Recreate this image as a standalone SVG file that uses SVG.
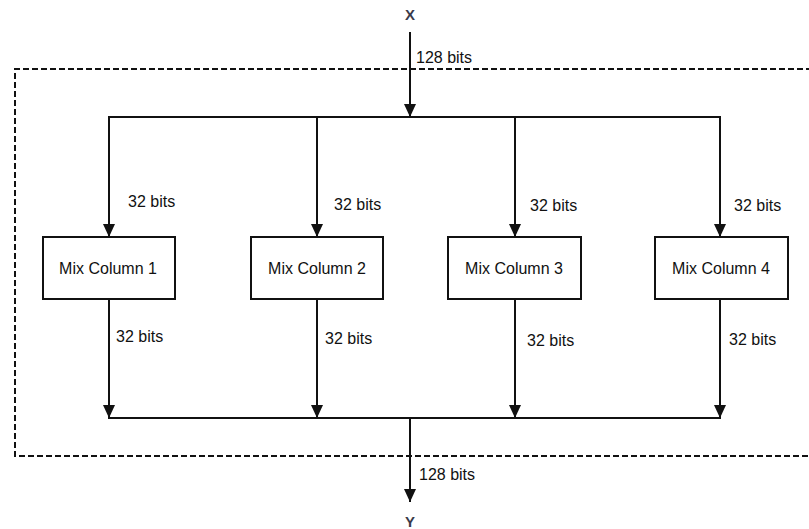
<svg xmlns="http://www.w3.org/2000/svg" width="809" height="529" viewBox="0 0 809 529">
<style>
.ln{stroke:#111;stroke-width:2;fill:none}
.box{fill:#fff;stroke:#111;stroke-width:2}
.t{font-family:"Liberation Sans",Arial,sans-serif;font-size:16px;fill:#111}
.tm{font-family:"Liberation Sans",Arial,sans-serif;font-size:16px;fill:#111;text-anchor:middle}
.io{font-family:"Liberation Sans",Arial,sans-serif;font-size:15px;font-weight:bold;fill:#3a3a4a;text-anchor:middle}
.dash{stroke:#111;stroke-width:2;fill:none;stroke-dasharray:6 3}
</style>
<defs>
<marker id="ah" markerUnits="userSpaceOnUse" markerWidth="14" markerHeight="14" viewBox="0 0 14 14" refX="13" refY="7" orient="auto">
<path d="M0,1 L13,7 L0,13 Z" fill="#111"/>
</marker>
</defs>
<rect width="809" height="529" fill="#fff"/>
<g id="boundary">
<path class="dash" d="M812,69 L15,69 L15,456 L812,456"/>
</g>
<g id="connectors">
<line class="ln" x1="410" y1="32" x2="410" y2="117" marker-end="url(#ah)"/>
<polyline class="ln" points="109,236 109,117 720,117 720,236"/>
<line class="ln" x1="109" y1="117" x2="109" y2="237" marker-end="url(#ah)"/>
<line class="ln" x1="317" y1="117" x2="317" y2="237" marker-end="url(#ah)"/>
<line class="ln" x1="515" y1="117" x2="515" y2="237" marker-end="url(#ah)"/>
<line class="ln" x1="720" y1="117" x2="720" y2="237" marker-end="url(#ah)"/>
<line class="ln" x1="109" y1="299" x2="109" y2="418" marker-end="url(#ah)"/>
<line class="ln" x1="317" y1="299" x2="317" y2="418" marker-end="url(#ah)"/>
<line class="ln" x1="515" y1="299" x2="515" y2="418" marker-end="url(#ah)"/>
<line class="ln" x1="720" y1="299" x2="720" y2="418" marker-end="url(#ah)"/>
<line class="ln" x1="108" y1="418" x2="721" y2="418"/>
<line class="ln" x1="410" y1="418" x2="410" y2="502" marker-end="url(#ah)"/>
<text class="t" x="416" y="63">128 bits</text>
<text class="t" x="128" y="207">32 bits</text>
<text class="t" x="334" y="210">32 bits</text>
<text class="t" x="530" y="211">32 bits</text>
<text class="t" x="734" y="211">32 bits</text>
<text class="t" x="116" y="342">32 bits</text>
<text class="t" x="325" y="344">32 bits</text>
<text class="t" x="527" y="346">32 bits</text>
<text class="t" x="729" y="345">32 bits</text>
<text class="t" x="419" y="480">128 bits</text>
</g>
<g id="X"><text class="io" x="410" y="20">X</text></g>
<g id="Y"><text class="io" x="410" y="527">Y</text></g>
<g id="mix1"><rect class="box" x="43" y="237" width="132" height="62"/><text class="tm" x="108" y="274">Mix Column 1</text></g>
<g id="mix2"><rect class="box" x="251" y="237" width="132" height="62"/><text class="tm" x="317" y="274">Mix Column 2</text></g>
<g id="mix3"><rect class="box" x="448" y="237" width="133" height="62"/><text class="tm" x="514" y="274">Mix Column 3</text></g>
<g id="mix4"><rect class="box" x="655" y="237" width="133" height="62"/><text class="tm" x="721" y="274">Mix Column 4</text></g>
</svg>
